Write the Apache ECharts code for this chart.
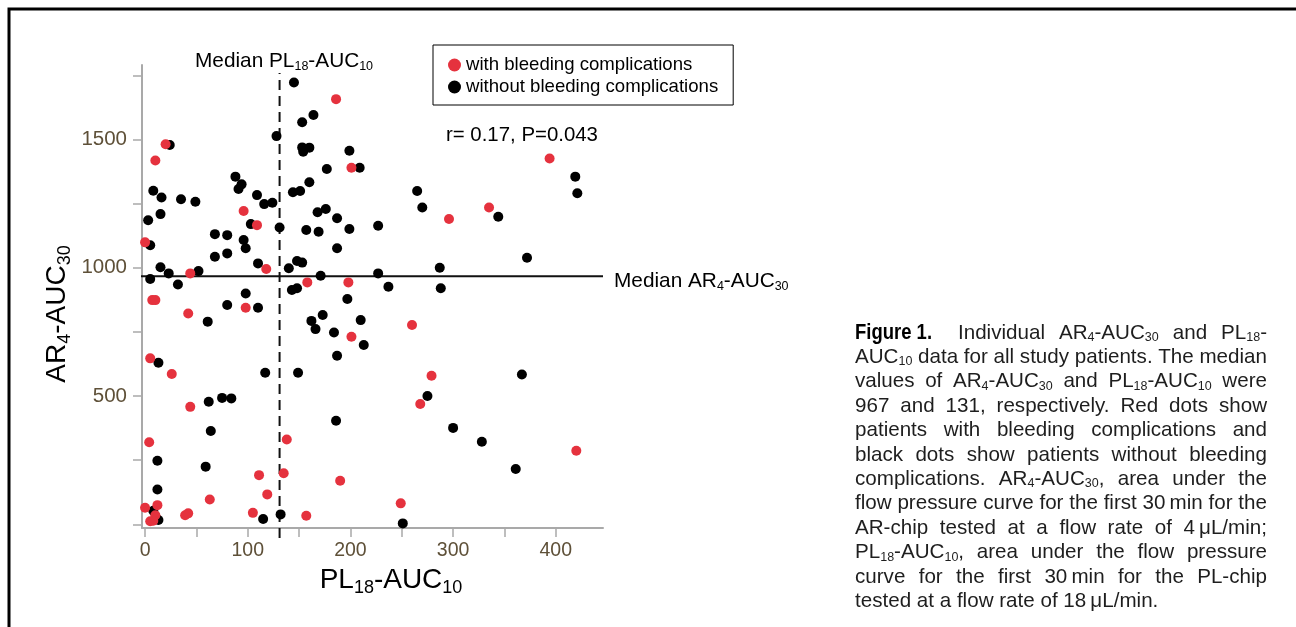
<!DOCTYPE html>
<html><head><meta charset="utf-8">
<script src="https://cdn.jsdelivr.net/npm/echarts@6/dist/echarts.min.js"></script>
<style>html,body{margin:0;padding:0;background:#fff}#c{width:1296px;height:627px}</style>
</head><body><div id="c"></div>
<script>
// ---------------- data ----------------
const withBleeding = [
  [20,1481],[10,1418],[96,1221],[186,1657],[201,1390],[335,1235],[296,1190],[394,1426],[109,1166],[0,1099],
  [44,978],[7,874],[10,874],[98,844],[42,822],[5,647],[118,995],[158,943],[198,943],[201,731],[260,777],
  [26,586],[44,458],[4,320],[63,97],[0,65],[12,75],[10,36],[5,12],[8,14],[39,36],[42,43],[105,45],
  [111,192],[138,331],[135,199],[190,170],[119,117],[157,34],[279,579],[268,469],[420,287],[249,82]
];
const withoutBleeding = [
  [24,1478],[88,1355],[94,1325],[91,1307],[8,1300],[16,1274],[35,1267],[49,1257],[109,1283],[15,1209],[3,1185],
  [145,1722],[164,1595],[153,1567],[128,1513],[153,1469],[160,1468],[154,1452],[199,1456],[177,1385],[209,1390],
  [160,1333],[144,1294],[151,1299],[116,1248],[124,1253],[168,1216],[176,1229],[187,1193],
  [265,1299],[270,1235],[344,1199],[419,1355],[421,1290],
  [103,1170],[5,1088],[68,1131],[80,1127],[96,1108],[98,1076],[68,1043],[80,1056],[110,1017],[15,1002],[23,978],
  [52,987],[5,956],[32,935],[98,900],[80,855],[110,844],[61,790],[13,630],
  [131,1157],[157,1147],[169,1140],[199,1151],[187,1076],[140,998],[148,1026],[153,1020],[171,969],[143,913],
  [148,920],[197,878],[173,816],[162,793],[210,796],[166,761],[184,748],[213,699],[187,657],[227,978],
  [227,1164],[372,1039],[287,1000],[237,926],[288,920],
  [62,478],[75,493],[84,491],[64,364],[12,248],[59,225],[12,136],[8,53],[13,17],[115,21],
  [117,591],[149,591],[186,404],[132,39],
  [367,584],[275,500],[300,376],[328,322],[361,216],[251,4]
];
const seriesNames = ['with bleeding complications', 'without bleeding complications'];
const xTickValues = [0,50,100,150,200,250,300,350,400];
const xLabelValues = [0,100,200,300,400];
const yTickValues = [0,250,500,750,1000,1250,1500,1750];
const yLabelValues = [500,1000,1500];
const medianPL = 131;   // median PL18-AUC10
const medianAR = 967;   // median AR4-AUC30
const statText = 'r= 0.17, P=0.043';
const xTitle = 'PL_{18}-AUC_{10}';
const yTitle = 'AR_{4}-AUC_{30}';
const medianPLText = 'Median PL_{18}-AUC_{10}';
const medianARText = 'Median AR_{4}-AUC_{30}';
const captionLines = [
  '**Figure\u00a01.** Individual AR_{4}-AUC_{30} and PL_{18}-',
  'AUC_{10} data for all study patients. The median',
  'values of AR_{4}-AUC_{30} and PL_{18}-AUC_{10} were',
  '967 and 131, respectively. Red dots show',
  'patients with bleeding complications and',
  'black dots show patients without bleeding',
  'complications. AR_{4}-AUC_{30}, area under the',
  'flow pressure curve for the first 30\u2009min for the',
  'AR-chip tested at a flow rate of 4\u2009\u03bcL/min;',
  'PL_{18}-AUC_{10}, area under the flow pressure',
  'curve for the first 30\u2009min for the PL-chip',
  'tested at a flow rate of 18\u2009\u03bcL/min.'
];

// ---------------- layout / style ----------------
const FAM = '"Liberation Sans", Arial, sans-serif';
const RED = '#e5323e', BLACK = '#000';
const AXIS_GRAY = '#a9a9a9', LABEL_COLOR = '#5e5038';
const X_RANGE = [-3, 446], Y_RANGE = [-14, 1790];
const V_LINE_EXT = [-53, 1759];   // vertical median line extent (y values)
const H_LINE_EXT = [-12.7, 446];  // horizontal median line extent (x values)

function toRich(markup, cls) {
  let out = '', last = 0, m; const re = /_\{([^}]*)\}/g;
  while ((m = re.exec(markup))) {
    if (m.index > last) out += '{' + cls + '|' + markup.slice(last, m.index) + '}';
    out += '{s|' + m[1] + '}';
    last = re.lastIndex;
  }
  if (last < markup.length) out += '{' + cls + '|' + markup.slice(last) + '}';
  return out;
}
function richText(markup, x, y, size, subSize, opts) {
  opts = opts || {};
  return {
    type: 'text', x: x, y: y, rotation: opts.rotation || 0, z: 100,
    style: {
      text: toRich(markup, 'n'), align: opts.align || 'left', verticalAlign: 'middle',
      rich: {
        n: {fontFamily: FAM, fontSize: size, fill: opts.color || '#000', lineHeight: Math.round(size * 1.2)},
        s: {fontFamily: FAM, fontSize: subSize, fill: opts.color || '#000', lineHeight: Math.round(subSize * 1.05), verticalAlign: 'bottom'}
      }
    }
  };
}

// ---- caption (justified, word by word) ----
const CAP = {left: 855, width: 412, top: 333, lh: 24.4, size: 20.6, sub: 12.5, bold: 22, boldScale: 0.84, extraAfterBold: 12, color: '#1e1e1e'};
const ctx = document.createElement('canvas').getContext('2d');
const capFonts = {
  n: CAP.size + 'px ' + FAM,
  s: CAP.sub + 'px ' + FAM,
  b: 'bold ' + CAP.bold + 'px ' + FAM
};
function parseWord(w) {
  let bold = false;
  if (w.indexOf('**') === 0) { bold = true; w = w.replace(/\*\*/g, ''); }
  const pieces = []; const re = /_\{([^}]*)\}/g; let last = 0, m;
  while ((m = re.exec(w))) {
    if (m.index > last) pieces.push([w.slice(last, m.index), bold ? 'b' : 'n']);
    pieces.push([m[1], 's']); last = re.lastIndex;
  }
  if (last < w.length) pieces.push([w.slice(last), bold ? 'b' : 'n']);
  return {bold: bold, pieces: pieces};
}
function measurePieces(w) {
  let width = 0;
  w.pieces.forEach(function (q) { ctx.font = capFonts[q[1]]; width += ctx.measureText(q[0]).width; });
  return w.bold ? width * CAP.boldScale : width;
}
const captionElements = [];
ctx.font = capFonts.n;
const spaceW = ctx.measureText(' ').width;
captionLines.forEach(function (line, i) {
  const words = line.split(' ').map(parseWord);
  const widths = words.map(measurePieces);
  let extra = 0; words.forEach(function (w) { if (w.bold) extra += CAP.extraAfterBold; });
  const total = widths.reduce(function (a, b) { return a + b; }, 0);
  const last = i === captionLines.length - 1;
  const gap = last ? spaceW : (CAP.width - total - extra) / (words.length - 1);
  let x = CAP.left;
  const y = CAP.top + i * CAP.lh;
  words.forEach(function (w, k) {
    const txt = w.pieces.map(function (q) { return '{' + q[1] + '|' + q[0] + '}'; }).join('');
    captionElements.push({
      type: 'text', x: x, y: y, z: 100, scaleX: w.bold ? CAP.boldScale : 1,
      style: {
        text: txt, align: 'left', verticalAlign: 'middle',
        rich: {
          n: {fontFamily: FAM, fontSize: CAP.size, fill: CAP.color, lineHeight: 22},
          s: {fontFamily: FAM, fontSize: CAP.sub, fill: CAP.color, lineHeight: 13, verticalAlign: 'bottom'},
          b: {fontFamily: FAM, fontWeight: 'bold', fontSize: CAP.bold, fill: '#000', lineHeight: 22}
        }
      }
    });
    x += widths[k] + gap + (w.bold ? CAP.extraAfterBold : 0);
  });
});

// ---------------- chart ----------------
const chart = echarts.init(document.getElementById('c'), null, {renderer: 'canvas'});
chart.setOption({
  animation: false,
  backgroundColor: '#fff',
  grid: {left: 142, top: 65, width: 461, height: 463},
  legend: {
    data: seriesNames, orient: 'vertical', left: 433, top: 45,
    padding: [10, 15, 8, 15], itemGap: 2, itemWidth: 13, itemHeight: 13, icon: 'circle',
    borderColor: '#000', borderWidth: 1, selectedMode: false,
    textStyle: {fontFamily: FAM, fontSize: 18.6, color: '#000', lineHeight: 20}
  },
  xAxis: {
    type: 'value', min: X_RANGE[0], max: X_RANGE[1], splitLine: {show: false},
    axisLine: {onZero: false, lineStyle: {color: AXIS_GRAY, width: 2}},
    axisTick: {show: true, length: 9, customValues: xTickValues, lineStyle: {color: AXIS_GRAY, width: 1.5}},
    axisLabel: {customValues: xLabelValues, formatter: function (v) { return String(v); }, fontFamily: FAM, fontSize: 19.5, color: LABEL_COLOR, margin: 13}
  },
  yAxis: {
    type: 'value', min: Y_RANGE[0], max: Y_RANGE[1], splitLine: {show: false},
    axisLine: {onZero: false, lineStyle: {color: AXIS_GRAY, width: 2}},
    axisTick: {show: true, length: 9, customValues: yTickValues, lineStyle: {color: AXIS_GRAY, width: 1.5}},
    axisLabel: {customValues: yLabelValues, formatter: function (v) { return String(v); }, fontFamily: FAM, fontSize: 20.5, color: LABEL_COLOR, margin: 15}
  },
  series: [
    {
      name: 'medianPL', type: 'line', clip: false, silent: true, symbol: 'none', z: 1,
      data: [[medianPL, V_LINE_EXT[0]], [medianPL, V_LINE_EXT[1]]],
      lineStyle: {color: '#111', width: 2, type: [10, 6]}
    },
    {
      name: 'medianAR', type: 'line', clip: false, silent: true, symbol: 'none', z: 1,
      data: [[H_LINE_EXT[0], medianAR], [H_LINE_EXT[1], medianAR]],
      lineStyle: {color: '#111', width: 2}
    },
    {
      name: seriesNames[1], type: 'scatter', symbolSize: 10, data: withoutBleeding, z: 3,
      itemStyle: {color: BLACK, opacity: 1}
    },
    {
      name: seriesNames[0], type: 'scatter', symbolSize: 10, data: withBleeding, z: 4,
      itemStyle: {color: RED, opacity: 1}
    }
  ],
  graphic: {
    elements: [
      {type: 'polyline', z: 100, shape: {points: [[9, 640], [9, 9], [1300, 9]]}, style: {stroke: '#000', lineWidth: 3, fill: null}},
      richText(medianPLText, 195, 61, 20.8, 12.5),
      richText(medianARText, 614, 281, 20.8, 12.5),
      {type: 'text', x: 446, y: 135, z: 100, style: {text: statText, fontFamily: FAM, fontSize: 20.4, fill: '#000', align: 'left', verticalAlign: 'middle'}},
      richText(xTitle, 391, 580, 28, 18, {align: 'center'}),
      richText(yTitle, 57, 314, 28, 18, {align: 'center', rotation: Math.PI / 2})
    ].concat(captionElements)
  }
});
</script></body></html>
